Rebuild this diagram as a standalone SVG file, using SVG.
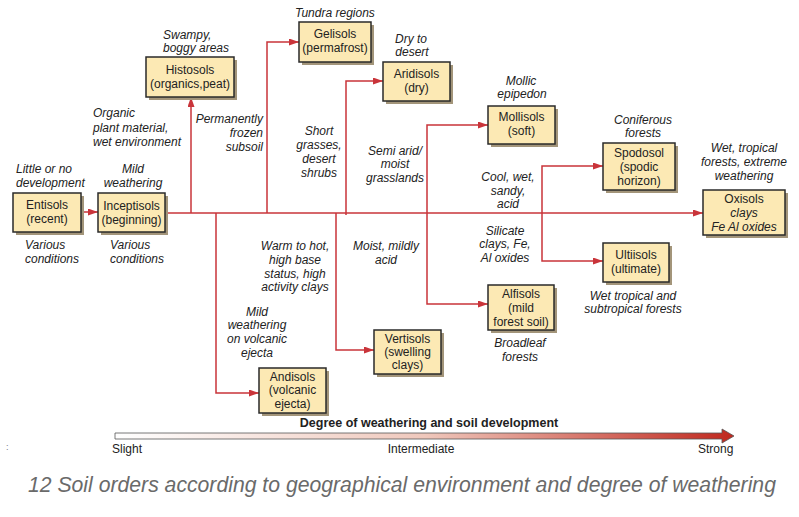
<svg xmlns="http://www.w3.org/2000/svg" width="799" height="517" viewBox="0 0 799 517">
<defs>
<style>
text{font-family:"Liberation Sans",Arial,sans-serif;font-size:12px;fill:#222}
.c{text-anchor:middle}
.r{text-anchor:end}
.i{font-style:italic}
.bx{fill:#fce9b4;stroke:#2a2a2a;stroke-width:1.5}
.sh{fill:#a3957a}
.ln{fill:none;stroke:#c9343a;stroke-width:1.5}
.ar{marker-end:url(#ah)}
</style>
<marker id="ah" markerUnits="userSpaceOnUse" markerWidth="11" markerHeight="8" refX="10" refY="3.5" orient="auto">
<path d="M0,0 L10,3.5 L0,7 z" fill="#c9343a"/>
</marker>
<linearGradient id="gr" x1="0" y1="0" x2="1" y2="0">
<stop offset="0" stop-color="#ffffff"/>
<stop offset="0.5" stop-color="#efc8bc"/>
<stop offset="1" stop-color="#c0281e"/>
</linearGradient>
</defs>
<rect width="799" height="517" fill="#fff"/>

<g id="connectors">
<path class="ln ar" d="M81,212 H98"/>
<path class="ln ar" d="M165,213 H703"/>
<path class="ln ar" d="M191,213 V97"/>
<path class="ln ar" d="M267,213 V42 H299"/>
<path class="ln ar" d="M346,215 V81 H383"/>
<path class="ln ar" d="M427,213 V125 H488"/>
<path class="ln ar" d="M427,213 V304 H488"/>
<path class="ln ar" d="M542,213 V166 H603"/>
<path class="ln ar" d="M542,213 V261 H603"/>
<path class="ln ar" d="M336,213 V350 H374"/>
<path class="ln ar" d="M216,213 V393 H259"/>
</g>

<g id="entisols">
<rect class="sh" x="16" y="196" width="68" height="39"/>
<rect class="bx" x="13" y="193" width="68" height="39"/>
<text class="c" x="47" y="209">Entisols</text>
<text class="c" x="47" y="223">(recent)</text>
</g>
<g id="inceptisols">
<rect class="sh" x="101" y="196" width="67" height="39"/>
<rect class="bx" x="98" y="193" width="67" height="39"/>
<text class="c" x="131.5" y="210">Inceptisols</text>
<text class="c" x="131.5" y="224">(beginning)</text>
</g>
<g id="histosols">
<rect class="sh" x="149" y="60" width="88" height="40"/>
<rect class="bx" x="146" y="57" width="88" height="40"/>
<text class="c" x="190" y="74">Histosols</text>
<text class="c" x="190" y="88">(organics,peat)</text>
</g>
<g id="gelisols">
<rect class="sh" x="302" y="25" width="72" height="40"/>
<rect class="bx" x="299" y="22" width="72" height="40"/>
<text class="c" x="335" y="38">Gelisols</text>
<text class="c" x="335" y="52">(permafrost)</text>
</g>
<g id="aridisols">
<rect class="sh" x="386" y="65" width="67" height="39"/>
<rect class="bx" x="383" y="62" width="67" height="39"/>
<text class="c" x="416.5" y="78">Aridisols</text>
<text class="c" x="416.5" y="92">(dry)</text>
</g>
<g id="mollisols">
<rect class="sh" x="491" y="109" width="67" height="38"/>
<rect class="bx" x="488" y="106" width="67" height="38"/>
<text class="c" x="521.5" y="121">Mollisols</text>
<text class="c" x="521.5" y="135">(soft)</text>
</g>
<g id="spodosol">
<rect class="sh" x="606" y="146" width="72" height="47"/>
<rect class="bx" x="603" y="143" width="72" height="47"/>
<text class="c" x="639" y="157">Spodosol</text>
<text class="c" x="639" y="171">(spodic</text>
<text class="c" x="639" y="185">horizon)</text>
</g>
<g id="oxisols">
<rect class="sh" x="706" y="193" width="82" height="45"/>
<rect class="bx" x="703" y="190" width="82" height="45"/>
<text class="c" x="744" y="203">Oxisols</text>
<text class="c i" x="744" y="217">clays</text>
<text class="c i" x="744" y="231">Fe Al oxides</text>
</g>
<g id="ultiisols">
<rect class="sh" x="606" y="246" width="66" height="39"/>
<rect class="bx" x="603" y="243" width="66" height="39"/>
<text class="c" x="636" y="259">Ultiisols</text>
<text class="c" x="636" y="273">(ultimate)</text>
</g>
<g id="alfisols">
<rect class="sh" x="491" y="288" width="66" height="45"/>
<rect class="bx" x="488" y="285" width="66" height="45"/>
<text class="c" x="521" y="298">Alfisols</text>
<text class="c" x="521" y="312">(mild</text>
<text class="c" x="521" y="326">forest soil)</text>
</g>
<g id="vertisols">
<rect class="sh" x="377" y="333" width="67" height="44"/>
<rect class="bx" x="374" y="330" width="67" height="44"/>
<text class="c" x="407.5" y="343">Vertisols</text>
<text class="c" x="407.5" y="356">(swelling</text>
<text class="c" x="407.5" y="369">clays)</text>
</g>
<g id="andisols">
<rect class="sh" x="262" y="371" width="67" height="45"/>
<rect class="bx" x="259" y="368" width="67" height="45"/>
<text class="c" x="292.5" y="381">Andisols</text>
<text class="c" x="292.5" y="394">(volcanic</text>
<text class="c" x="292.5" y="408">ejecta)</text>
</g>

<g id="annotations" class="i">
<text class="i" x="295" y="17">Tundra regions</text>
<text class="i" x="163" y="39">Swampy,</text>
<text class="i" x="163" y="52">boggy areas</text>
<text class="i c" x="411" y="43">Dry to</text>
<text class="i c" x="412" y="56">desert</text>
<text class="i c" x="521" y="85">Mollic</text>
<text class="i c" x="522" y="98">epipedon</text>
<text class="i" x="93" y="117">Organic</text>
<text class="i" x="93" y="132">plant material,</text>
<text class="i" x="93" y="146">wet environment</text>
<text class="i r" x="263" y="123">Permanently</text>
<text class="i r" x="263" y="137">frozen</text>
<text class="i r" x="263" y="151">subsoil</text>
<text class="i c" x="319" y="135">Short</text>
<text class="i c" x="319" y="149">grasses,</text>
<text class="i c" x="319" y="163">desert</text>
<text class="i c" x="319" y="177">shrubs</text>
<text class="i c" x="395" y="155">Semi arid/</text>
<text class="i c" x="395" y="168">moist</text>
<text class="i c" x="395" y="182">grasslands</text>
<text class="i c" x="643" y="124">Coniferous</text>
<text class="i c" x="643" y="137">forests</text>
<text class="i c" x="744" y="152">Wet, tropical</text>
<text class="i c" x="744" y="166">forests, extreme</text>
<text class="i c" x="744" y="180">weathering</text>
<text class="i" x="16" y="173">Little or no</text>
<text class="i" x="16" y="187">development</text>
<text class="i c" x="133" y="173">Mild</text>
<text class="i c" x="133" y="187">weathering</text>
<text class="i c" x="508" y="181">Cool, wet,</text>
<text class="i c" x="508" y="195">sandy,</text>
<text class="i c" x="508" y="208">acid</text>
<text class="i" x="25" y="249">Various</text>
<text class="i" x="25" y="263">conditions</text>
<text class="i" x="110" y="249">Various</text>
<text class="i" x="110" y="263">conditions</text>
<text class="i c" x="295" y="250">Warm to hot,</text>
<text class="i c" x="295" y="264">high base</text>
<text class="i c" x="295" y="278">status, high</text>
<text class="i c" x="295" y="291">activity clays</text>
<text class="i c" x="386" y="250">Moist, mildly</text>
<text class="i c" x="386" y="264">acid</text>
<text class="i c" x="505" y="235">Silicate</text>
<text class="i c" x="505" y="248">clays, Fe,</text>
<text class="i c" x="505" y="262">Al oxides</text>
<text class="i c" x="257" y="316">Mild</text>
<text class="i c" x="257" y="329">weathering</text>
<text class="i c" x="257" y="343">on volcanic</text>
<text class="i c" x="257" y="357">ejecta</text>
<text class="i c" x="520" y="347">Broadleaf</text>
<text class="i c" x="520" y="361">forests</text>
<text class="i c" x="633" y="300">Wet tropical and</text>
<text class="i c" x="633" y="313">subtropical forests</text>
</g>

<g id="scale">
<path d="M115,433 H722 V429 L734,436 L722,443 V439 H115 Z" fill="url(#gr)" stroke="#555" stroke-width="0.8"/>
<text class="c" x="429" y="427" style="font-weight:bold;font-size:12.5px">Degree of weathering and soil development</text>
<text x="112" y="453">Slight</text>
<text class="c" x="421" y="453">Intermediate</text>
<text x="698" y="453">Strong</text>
</g>
<text x="6" y="450" style="font-size:9px;fill:#778">:</text>
<text class="i" x="28" y="492" style="font-size:21.2px;fill:#6a6a6a">12 Soil orders according to geographical environment and degree of weathering</text>
</svg>
